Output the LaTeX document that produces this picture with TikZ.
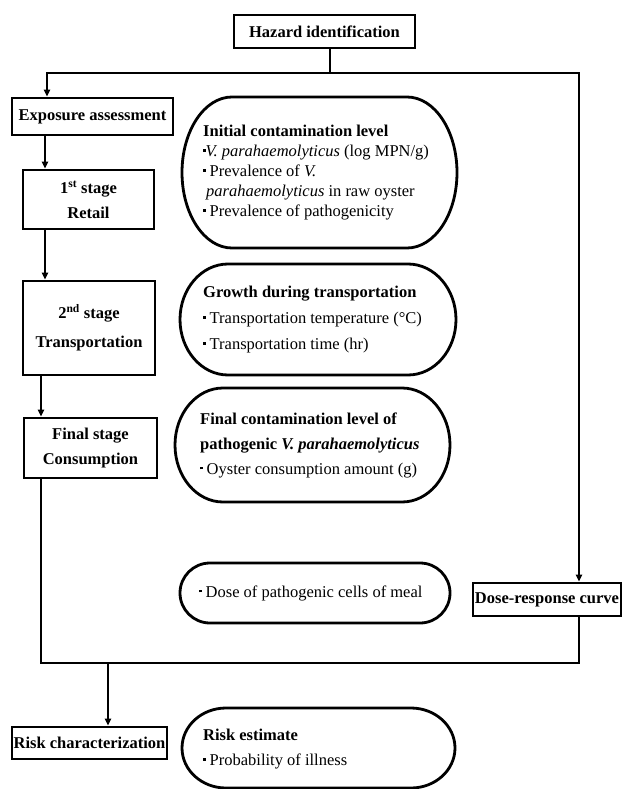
\documentclass[tikz,border=0pt]{standalone}
\usepackage{fontspec}
\setmainfont{Liberation Serif}
\usetikzlibrary{arrows.meta,calc}

\newcommand{\sqbul}{\raisebox{0.28em}{\rule{2.4pt}{2.4pt}}}
\newcommand{\Vp}{\textit{V.~parahaemolyticus}}
% capsule outline: x1, y1, x2, y2, end radius
\newcommand{\capsule}[5]{%
  \pgfmathsetmacro{\capry}{(#4-#2)/2}
  \draw[capline] (#1+#5,#2) -- (#3-#5,#2)
    arc[start angle=90,end angle=-90,x radius=#5pt,y radius=\capry pt]
    -- (#1+#5,#4)
    arc[start angle=270,end angle=90,x radius=#5pt,y radius=\capry pt] -- cycle;}

\begin{document}
\begin{tikzpicture}[x=1pt,y=-1pt]
        \tikzstyle{every node}+=[inner sep=0pt, font=\fontsize{16.5}{19}\selectfont]
        \tikzstyle{stagebox}=[draw, line width=2.6pt, font=\bfseries\fontsize{16.5}{25}\selectfont, align=center]
        \tikzstyle{capline}=[line width=2.8pt]
        \tikzstyle{captext}=[anchor=west, align=left]
        \tikzstyle{link}=[line width=2pt]
        \tikzstyle{arr}=[link, -{Triangle[length=7pt,width=6pt]}]
        \useasboundingbox (0,0) rectangle (623,789);
        % boxes on the left
        \node [stagebox, minimum width=181, minimum height=33] (hazard) at (324.5,31.5) {Hazard identification};
        \node [stagebox, minimum width=161, minimum height=37] (expo) at (92.5,116.5) {Exposure assessment};
        \node [stagebox, minimum width=131, minimum height=59] (retail) at (88.5,199.5) {1\textsuperscript{st} stage\\Retail};
        \node [stagebox, minimum width=132, minimum height=94, font=\bfseries\fontsize{16.5}{29}\selectfont] (transp) at (89,328) {2\textsuperscript{nd} stage\\Transportation};
        \node [stagebox, minimum width=133, minimum height=60] (consum) at (90.5,448) {Final stage\\Consumption};
        \node [stagebox, minimum width=148, minimum height=33] (dose) at (547,599.5) {Dose-response curve};
        \node [stagebox, minimum width=155, minimum height=32] (risk) at (89.5,743) {Risk characterization};
        % capsules
        \capsule{182}{97}{457}{248}{50}
        \node [captext, font=\fontsize{16.5}{20}\selectfont] (init) at (203,172.5) {\textbf{Initial contamination level}\\
          \sqbul\Vp{} (log MPN/g)\\
          \sqbul{} Prevalence of \textit{V.}\\
          \hspace*{3pt}\textit{parahaemolyticus} in raw oyster\\
          \sqbul{} Prevalence of pathogenicity};
        \capsule{180}{264}{456}{375}{48}
        \node [captext, font=\fontsize{16.5}{26}\selectfont] (growth) at (203,319.5) {\textbf{Growth during transportation}\\
          \sqbul{} Transportation temperature (°C)\\
          \sqbul{} Transportation time (hr)};
        \capsule{175}{388}{450}{502}{48}
        \node [captext, font=\fontsize{16.5}{25}\selectfont] (final) at (200,445) {\textbf{Final contamination level of}\\
          \textbf{pathogenic \textit{V. parahaemolyticus}}\\
          \sqbul{} Oyster consumption amount (g)};
        \capsule{180}{563}{450}{623}{30}
        \node [captext] (cells) at (199,593) {\sqbul{} Dose of pathogenic cells of meal};
        \capsule{182}{708}{455}{788}{44}
        \node [captext, font=\fontsize{16.5}{25}\selectfont] (estimate) at (203,749) {\textbf{Risk estimate}\\
          \sqbul{} Probability of illness};
        % connectors
        \coordinate (split) at (330,73);
        \coordinate (lefttop) at (47,73);
        \coordinate (righttop) at (579,73);
        \coordinate (colA) at (45,0);
        \coordinate (colB) at (41,0);
        \coordinate (merge) at (108,663);
        \draw [link] (split |- hazard.south) -- (split);
        \draw [arr] (split) -- (lefttop) -- (lefttop |- expo.north);
        \draw [arr] (split) -- (righttop) -- (righttop |- dose.north);
        \draw [arr] (colA |- expo.south) -- (colA |- retail.north);
        \draw [arr] (colA |- retail.south) -- (colA |- transp.north);
        \draw [arr] (colB |- transp.south) -- (colB |- consum.north);
        \draw [link] (colB |- consum.south) -- (colB |- merge) -- (righttop |- merge) -- (righttop |- dose.south);
        \draw [arr] (merge) -- (merge |- risk.north);
\end{tikzpicture}
\end{document}
